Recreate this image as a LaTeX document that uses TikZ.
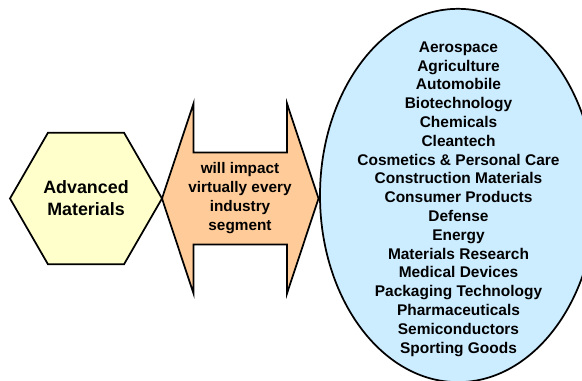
\documentclass[tikz,border=0pt]{standalone}
\usepackage{fontspec}
\setmainfont{Liberation Sans}
\usetikzlibrary{shapes.geometric}

\definecolor{hexyellow}{RGB}{255,255,204}
\definecolor{impactorange}{RGB}{255,204,153}
\definecolor{sectorblue}{RGB}{204,236,255}

\begin{document}
\begin{tikzpicture}[
        x=0.75pt, y=-0.75pt,
        outline/.style={draw=black, line width=1.3pt, line join=miter},
        material/.style={outline, regular polygon, regular polygon sides=6, minimum size=114pt, inner sep=0pt, outer sep=0pt, fill=hexyellow, align=center, font=\fontsize{13.4}{16.5}\selectfont\bfseries},
        impact/.style={outline, fill=impactorange},
        sectors/.style={outline, ellipse, minimum width=207pt, minimum height=280pt, inner sep=0pt, fill=sectorblue},
        blurb/.style={align=center, inner sep=0pt, font=\fontsize{11.6}{14.1}\selectfont\bfseries}
    ]
    \useasboundingbox (0,0) rectangle (582,381);
    \clip (0,0) rectangle (582,381);

    \node[material] (materials) at (86,198.5) {Advanced\\Materials};

    % double arrow between the hexagon and the ellipse
    \draw[impact] (materials.east) -- ++(31.5,-95) -- ++(0,49) -- ++(93.5,0) -- ++(0,-49)
        -- ++(31.5,95) coordinate (tip) -- ++(-31.5,95) -- ++(0,-49) -- ++(-93.5,0) -- ++(0,49) -- cycle;
    \node[blurb, font=\fontsize{11.5}{14.25}\selectfont\bfseries] (impacttext) at (240,198) {will impact\\virtually every\\industry\\segment};

    \node[sectors] (sectors) at (458,195.5) {};
    \node[blurb] (industries) at (458.5,199) {Aerospace\\Agriculture\\Automobile\\Biotechnology\\Chemicals\\Cleantech\\Cosmetics \& Personal Care\\Construction Materials\\Consumer Products\\Defense\\Energy\\Materials Research\\Medical Devices\\Packaging Technology\\Pharmaceuticals\\Semiconductors\\Sporting Goods};
\end{tikzpicture}
\end{document}
